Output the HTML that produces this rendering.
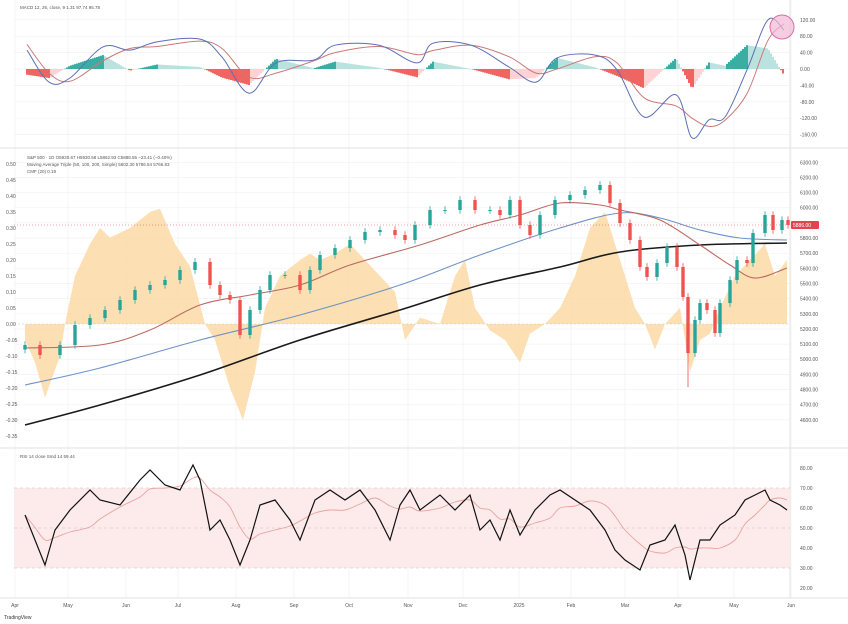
<!DOCTYPE html>
<html><head><meta charset="utf-8">
<style>
html,body{margin:0;padding:0;background:#fff;}
svg{display:block;font-family:"Liberation Sans",sans-serif;}
</style></head>
<body>
<svg id="chart" width="848" height="624" viewBox="0 0 848 624" xmlns="http://www.w3.org/2000/svg"></svg>
<script>
// ---- data ----
const candleT = [0,15,35,50,65,80,95,110,125,140,155,170,185,195,205,215,225,235,245,260,275,285,295,310,325,340,355,370,380,390,405,420,435,450,465,475,485,495,505,515,530,545,560,575,585,595,605,615,622,632,642,652,658,663,670,675,682,690,695,705,712,722,728,740,748,757,763];
const closes = [5094,5028,5094,5226,5272,5325,5391,5457,5490,5523,5589,5642,5490,5424,5391,5160,5325,5457,5556,5556,5457,5589,5688,5734,5787,5840,5853,5820,5787,5886,5985,5985,6051,5985,5985,5952,6051,5886,5820,5952,6051,6084,6117,6150,6031,5899,5787,5609,5543,5635,5741,5609,5411,5041,5259,5371,5325,5173,5371,5523,5655,5635,5833,5952,5853,5919,5886];
const ma50T = [0,75,125,175,225,275,325,395,455,495,535,575,595,635,675,705,730,762];
const ma50 = [5074,5094,5193,5358,5424,5490,5622,5754,5886,5952,6031,6018,5985,5919,5754,5622,5536,5602];
const ma100T = [0,75,175,275,375,455,535,595,635,675,715,762];
const ma100 = [4830,4942,5127,5292,5490,5688,5866,5965,5932,5853,5800,5787];
const ma200T = [0,75,175,275,375,455,535,595,675,762];
const ma200 = [4566,4698,4896,5127,5325,5490,5609,5708,5754,5767];
const cmfT = [0,10,20,35,40,50,65,75,85,105,125,135,150,165,180,190,205,218,230,240,255,275,285,295,310,325,340,355,370,380,395,415,430,440,450,465,480,495,505,520,535,550,565,580,590,600,610,620,630,640,655,665,675,685,695,710,725,740,750,762];
const cmf = [-0.05,-0.12,-0.23,-0.1,0.0,0.15,0.25,0.3,0.27,0.3,0.35,0.36,0.25,0.18,0.0,-0.05,-0.2,-0.3,-0.15,0.05,0.15,0.2,0.22,0.2,0.22,0.25,0.2,0.15,0.1,-0.05,0.02,0.0,0.15,0.2,0.05,-0.02,-0.05,-0.12,-0.03,0.0,0.05,0.15,0.3,0.35,0.25,0.15,0.05,0.0,-0.08,0.0,0.05,-0.15,-0.05,-0.03,0.05,0.15,0.2,0.25,0.15,0.2];
const macdT = [2,24,45,78,105,132,175,197,224,251,289,310,354,392,408,446,484,511,532,570,592,619,651,667,684,700,722,743,759];
const macd = [46,-32,-22,54,46,66,73,29,-59,15,22,58,58,15,63,58,5,-32,27,34,-2,-117,-63,-168,-124,-117,-2,120,95];
const signal = [60,-10,-30,20,50,55,68,50,-20,-10,20,40,55,35,45,58,30,-10,0,30,15,-70,-90,-120,-140,-125,-60,70,110];
const rsiT = [0,10,20,30,45,65,75,95,115,125,140,155,168,175,185,195,205,215,225,235,250,265,275,290,305,320,335,350,365,375,385,395,415,430,445,455,465,475,485,495,510,525,535,550,565,580,590,600,615,625,640,650,660,665,675,685,695,710,720,730,740,745,755,762];
const rsi = [56.5,44,31.5,49,59,69,64,61.5,74,79,71.5,69,81.5,74,49,54,44,31.5,44,61.5,64,54,44,64,69,64,69,59,44,61.5,69,59,66.5,59,66.5,49,54,44,59,46.5,59,66.5,69,64,59,49,39,34,29,41.5,44,51.5,36.5,24,44,44,51.5,56.5,64,66.5,69,64,61.5,59];
const priceTicks = [4600,4700,4800,4900,5000,5100,5200,5300,5400,5500,5600,5700,5800,5900,6000,6100,6200,6300];
const cmfTicks = [0.5,0.45,0.4,0.35,0.3,0.25,0.2,0.15,0.1,0.05,0,-0.05,-0.1,-0.15,-0.2,-0.25,-0.3,-0.35];
const macdTicks = [120,80,40,0,-40,-80,-120,-160];
const rsiTicks = [80,70,60,50,40,30,20];
const monthLabels = ["Apr","May","Jun","Jul","Aug","Sep","Oct","Nov","Dec","2025","Feb","Mar","Apr","May","Jun"];
const monthT = [-10,43,101,153,211,269,324,383,438,494,546,600,653,709,766];

// ---- scales ----
const X = t => 25 + t;
const PY = p => 185 + (6150-p)/6.6;
const CY = v => 324 - v*320;
const MY = v => 69 - v*0.41;
const RY = v => 488 + (70-v)*2;
const NS = "http://www.w3.org/2000/svg";
const svg = document.getElementById('chart');
function mk(tag, attrs, parent){ const e=document.createElementNS(NS,tag); for(const k in attrs) e.setAttribute(k,attrs[k]); (parent||svg).appendChild(e); return e; }
function txt(x,y,s,attrs){ const e=mk('text',Object.assign({x:x,y:y,'font-size':5,fill:'#555'},attrs||{})); e.textContent=s; return e; }
function interp(ts,vs,t){ if(t<=ts[0])return vs[0]; for(let i=1;i<ts.length;i++){ if(t<=ts[i]){const f=(t-ts[i-1])/(ts[i]-ts[i-1]);return vs[i-1]+f*(vs[i]-vs[i-1]);} } return vs[vs.length-1]; }
function pathOf(ts,vs,fy){ return ts.map((t,i)=>(i?'L':'M')+X(t).toFixed(1)+','+fy(vs[i]).toFixed(1)).join(''); }
function smoothPath(ts,vs,fy){
  const p = ts.map((t,i)=>[X(t),fy(vs[i])]);
  let d='M'+p[0][0].toFixed(1)+','+p[0][1].toFixed(1);
  for(let i=0;i<p.length-1;i++){
    const p0=p[Math.max(0,i-1)],p1=p[i],p2=p[i+1],p3=p[Math.min(p.length-1,i+2)];
    const c1x=p1[0]+(p2[0]-p0[0])/6, c1y=p1[1]+(p2[1]-p0[1])/6;
    const c2x=p2[0]-(p3[0]-p1[0])/6, c2y=p2[1]-(p3[1]-p1[1])/6;
    d+='C'+c1x.toFixed(1)+','+c1y.toFixed(1)+' '+c2x.toFixed(1)+','+c2y.toFixed(1)+' '+p2[0].toFixed(1)+','+p2[1].toFixed(1);
  }
  return d;
}

// ---- grid ----
const grid = mk('g',{});


monthT.forEach(t=>{ mk('line',{x1:X(t),x2:X(t),y1:0,y2:598,stroke:'#f0f0f0','stroke-width':0.7},grid); });
priceTicks.forEach(p=>{ mk('line',{x1:14,x2:790,y1:PY(p),y2:PY(p),stroke:'#f2f2f2','stroke-width':0.7},grid); });
macdTicks.forEach(v=>{ mk('line',{x1:14,x2:790,y1:MY(v),y2:MY(v),stroke:'#f2f2f2','stroke-width':0.7},grid); });
[148,448,598].forEach(y=>{ const l=mk('line',{x1:0,x2:848,y1:y,y2:y,stroke:'#e0e0e0','stroke-width':1});   });
const ax=mk('line',{x1:790,x2:790,y1:0,y2:598,stroke:'#e6e6e6','stroke-width':1});
 

// ---- RSI pane ----
const rsiG = mk('g',{});


const band = mk('rect',{x:14,y:RY(70),width:776,height:RY(30)-RY(70),fill:'#fcebea'},rsiG);
 
[70,50,30].forEach(v=>{ mk('line',{x1:14,x2:790,y1:RY(v),y2:RY(v),stroke:'#c0c0c0','stroke-width':0.6,'stroke-dasharray':'3,3'},rsiG); });
const rsiMa = rsi.map((v,i)=>{ let s=0,n=0; for(let j=Math.max(0,i-4);j<=i;j++){s+=rsi[j];n++;} return s/n; });
const rm = mk('path',{d:smoothPath(rsiT,rsiMa,RY),fill:'none',stroke:'#e8a3a0','stroke-width':0.9},rsiG);
 
const rl = mk('path',{d:pathOf(rsiT,rsi,RY),fill:'none',stroke:'#111','stroke-width':1.2},rsiG);
 
rsiTicks.forEach(v=>{ const t=txt(800,RY(v)+2,v.toFixed(2));   });

// ---- CMF area ----
const cmfG = mk('g',{});


let d='M'+X(cmfT[0])+','+CY(0);
cmfT.forEach((t,i)=>{ d+='L'+X(t).toFixed(1)+','+CY(cmf[i]).toFixed(1); });
d+='L'+X(cmfT[cmfT.length-1])+','+CY(0)+'Z';
mk('path',{d:d,fill:'#fbd9a5','fill-opacity':0.85,stroke:'none'},cmfG);
mk('line',{x1:14,x2:790,y1:CY(0),y2:CY(0),stroke:'#c8c8c8','stroke-width':0.6,'stroke-dasharray':'2,2'},cmfG);
cmfTicks.forEach(v=>{ const t=txt(6,CY(v)+2,v.toFixed(2));   });

// ---- moving averages ----
const m200=mk('path',{d:smoothPath(ma200T,ma200,PY),fill:'none',stroke:'#1a1a1a','stroke-width':1.6});
 
const m100=mk('path',{d:smoothPath(ma100T,ma100,PY),fill:'none',stroke:'#6f93c6','stroke-width':1.1});
 
const m50=mk('path',{d:smoothPath(ma50T,ma50,PY),fill:'none',stroke:'#b86b62','stroke-width':1.1});
 

// ---- candles ----
const cg = mk('g',{});


closes.forEach((c,i)=>{
  const o = i? closes[i-1] : c-30;
  const up = c>=o;
  const col = up? '#26a69a' : '#ef5350';
  const hi = Math.max(o,c)+25, lo = Math.min(o,c)-25 - (c<5100 && i>40 ? 200 : 0);
  const x = X(candleT[i]);
  const w = mk('line',{x1:x,x2:x,y1:PY(hi),y2:PY(lo),stroke:col,'stroke-width':0.8},cg);
   
  const b = mk('rect',{x:x-1.7,y:PY(Math.max(o,c)),width:3.4,height:Math.max(1,Math.abs(PY(o)-PY(c))),fill:col},cg);
   
});
priceTicks.forEach(p=>{ const t=txt(800,PY(p)+2,p.toFixed(2));   });
const last = closes[closes.length-1];
const tag = mk('rect',{x:791,y:PY(last)-4,width:28,height:8,fill:'#e0454f',rx:1});
 
const tt = txt(793,PY(last)+2,last.toFixed(2),{fill:'#fff'});
 
const ll = mk('line',{x1:14,x2:790,y1:PY(last),y2:PY(last),stroke:'#e0454f','stroke-width':0.5,'stroke-dasharray':'1,2'});
 

// ---- MACD pane ----
const mg = mk('g',{});


let prevH = 0;
for(let t=macdT[0]; t<=macdT[macdT.length-1]; t+=2){
  const h = interp(macdT,macd,t)-interp(macdT,signal,t);
  let col;
  if(h>=0) col = h>=prevH? '#26a69a' : '#b2dfdb'; else col = h<=prevH? '#ef5350' : '#ffcdd2';
  prevH = h;
  const y0=MY(0), y1=MY(h);
  const r = mk('rect',{x:X(t)-0.9,y:Math.min(y0,y1),width:1.8,height:Math.max(0.5,Math.abs(y1-y0)),fill:col},mg);
   
}
const sl = mk('path',{d:smoothPath(macdT,signal,MY),fill:'none',stroke:'#c97a78','stroke-width':1},mg);
 
const ml = mk('path',{d:smoothPath(macdT,macd,MY),fill:'none',stroke:'#5b6fb5','stroke-width':1},mg);
 
macdTicks.forEach(v=>{ const t=txt(800,MY(v)+2,v.toFixed(2));   });
const circ = mk('circle',{cx:782,cy:27,r:12,fill:'#f3b8d6','fill-opacity':0.7,stroke:'#d470a8','stroke-width':1});
 

// ---- time axis ----
monthLabels.forEach((m,i)=>{ const t=txt(X(monthT[i]),607,m,{'text-anchor':'middle'});   });

// ---- legends ----
const l1=txt(20,9,"MACD 12, 26, close, 9  1.31  97.74  95.78",{'font-size':4.5});
 
const l2=txt(27,159,"S&P 500 · 1D  O5920.67 H5930.58 L5862.93 C5888.55 −23.41 (−0.40%)",{'font-size':4.5});
 
const l3=txt(27,166,"Moving Average Triple (50, 100, 200, Simple)  5602.30  5786.54  5766.83",{'font-size':4.5});
 
const l4=txt(27,173,"CMF (20)  0.19",{'font-size':4.5});
 
const l5=txt(20,458,"RSI 14 close  Smd  14  59.44",{'font-size':4.5});
 
const logo=txt(4,619,"TradingView",{'font-size':5,fill:'#333'});
 
</script>
</body></html>
